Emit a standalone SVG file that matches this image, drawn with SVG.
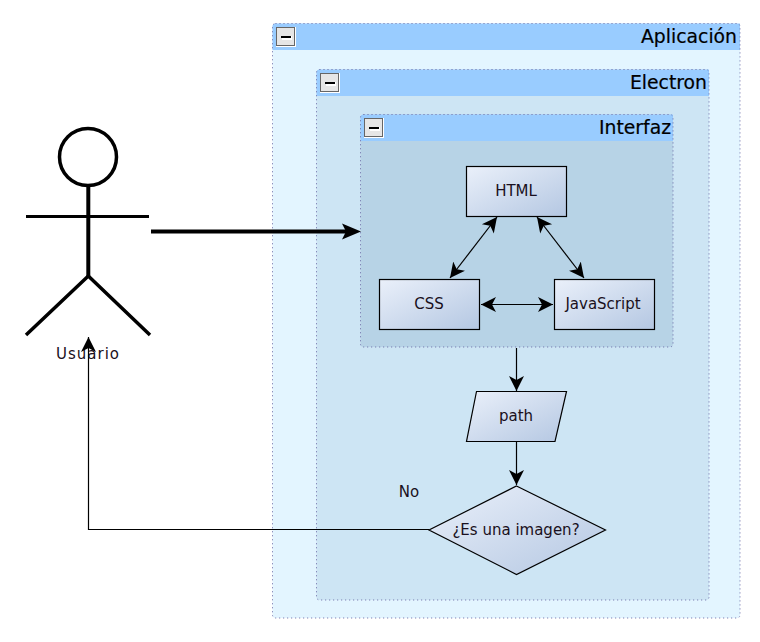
<svg xmlns="http://www.w3.org/2000/svg" width="760" height="642" viewBox="0 0 760 642">
<style>
text{font-family:"DejaVu Sans",sans-serif}
.lbl{font-size:15px;fill:#1a1020;text-anchor:middle}
.title{font-size:18.800px;fill:#000;text-anchor:end;stroke:#000;stroke-width:0.200}
.frame{stroke:#6a6aa5;stroke-width:1;stroke-dasharray:1 3;fill:none}
.hdr{fill:#99ccff}
.shape{fill:url(#g);stroke:#000;stroke-width:1.2}
.link{fill:none;stroke:#000;stroke-width:1.2}
.man{fill:none;stroke:#000;stroke-width:3.500}
</style>
<defs>
<linearGradient id="g" x1="0" y1="0" x2="1" y2="1"><stop offset="0" stop-color="#eaf0fa"/><stop offset="1" stop-color="#b4c7e2"/></linearGradient>
<marker id="a" markerUnits="userSpaceOnUse" markerWidth="18" markerHeight="16" refX="15" refY="8" orient="auto"><path d="M0 0.500L15 8L0 15.500L4 8Z" fill="#000"/></marker>
<marker id="as" markerUnits="userSpaceOnUse" markerWidth="18" markerHeight="16" refX="0" refY="8" orient="auto"><path d="M15 0.500L0 8L15 15.500L11 8Z" fill="#000"/></marker>
<g id="tog"><rect x="0" y="0" width="20" height="20" fill="#fff"/><rect x="0.500" y="0.500" width="18" height="18" fill="#e6e6e6" stroke="#666" stroke-width="1"/><rect x="6" y="9" width="10" height="4" fill="#fff"/><rect x="5" y="9" width="10" height="2" fill="#000"/></g>
</defs>
<g id="Aplicacion">
<rect x="272.500" y="23.500" width="467.500" height="594.500" rx="3" fill="#e3f5ff"/>
<path class="hdr" d="M272.500 50V26.500a3 3 0 0 1 3-3H740V50Z"/>
<rect class="frame" x="272.500" y="23.500" width="467.500" height="594.500" rx="3"/>
<use href="#tog" x="276" y="27"/>
<text class="title" x="737" y="43">Aplicación</text>
</g>
<g id="Electron">
<rect x="316.500" y="69.500" width="392.500" height="530.500" rx="3" fill="#cde5f4"/>
<path class="hdr" d="M316.500 96V72.500a3 3 0 0 1 3-3H709V96Z"/>
<rect class="frame" x="316.500" y="69.500" width="392.500" height="530.500" rx="3"/>
<use href="#tog" x="320" y="73"/>
<text class="title" x="707" y="89">Electron</text>
</g>
<g id="Interfaz">
<rect x="360.500" y="114.500" width="312.500" height="232.500" rx="3" fill="#b7d3e6"/>
<path class="hdr" d="M360.500 141V117.500a3 3 0 0 1 3-3H673V141Z"/>
<rect class="frame" x="360.500" y="114.500" width="312.500" height="232.500" rx="3"/>
<use href="#tog" x="364" y="118"/>
<text class="title" x="671" y="134">Interfaz</text>
</g>
<g id="Usuario">
<circle class="man" cx="88" cy="157" r="28.500"/>
<path class="man" d="M88.300 186V276" stroke-width="4" style="stroke-width:4"/>
<path class="man" d="M26 216.500H149" style="stroke-width:3"/>
<path class="man" d="M88.300 276L26 335M88.300 276L150 335"/>
<text class="lbl" x="88" y="359" letter-spacing="1">Usuario</text>
</g>
<g id="HTML"><rect class="shape" x="466.500" y="166.500" width="100" height="50"/><text class="lbl" x="516" y="196">HTML</text></g>
<g id="CSS"><rect class="shape" x="379.500" y="279.500" width="100" height="50"/><text class="lbl" x="429" y="309">CSS</text></g>
<g id="JavaScript"><rect class="shape" x="554.500" y="279.500" width="100" height="50"/><text class="lbl" x="603" y="309">JavaScript</text></g>
<g id="path"><path class="shape" d="M476.500 391.500H566.500L555 441.500H466.500Z"/><text class="lbl" x="516" y="421">path</text></g>
<g id="decision"><path class="shape" d="M516.500 486L605.500 530L516.500 574.500L429 530Z"/><text class="lbl" x="516" y="535">¿Es una imagen?</text></g>
<g id="connectors">
<path d="M151 231.500H346" fill="none" stroke="#000" stroke-width="4"/>
<path d="M342 223.500L361 231.500L342 239.500L346 231.500Z" fill="#000"/>
<path class="link" d="M497 217L450 278" marker-start="url(#as)" marker-end="url(#a)"/>
<path class="link" d="M537 217L584 278" marker-start="url(#as)" marker-end="url(#a)"/>
<path class="link" d="M481 304.500H553" marker-start="url(#as)" marker-end="url(#a)"/>
<path class="link" d="M516.500 348V391" marker-end="url(#a)"/>
<path class="link" d="M516.500 442V485" marker-end="url(#a)"/>
<path class="link" d="M429 529.500H88.500V337" marker-end="url(#a)"/>
</g>
<text class="lbl" x="409" y="497">No</text>
</svg>
